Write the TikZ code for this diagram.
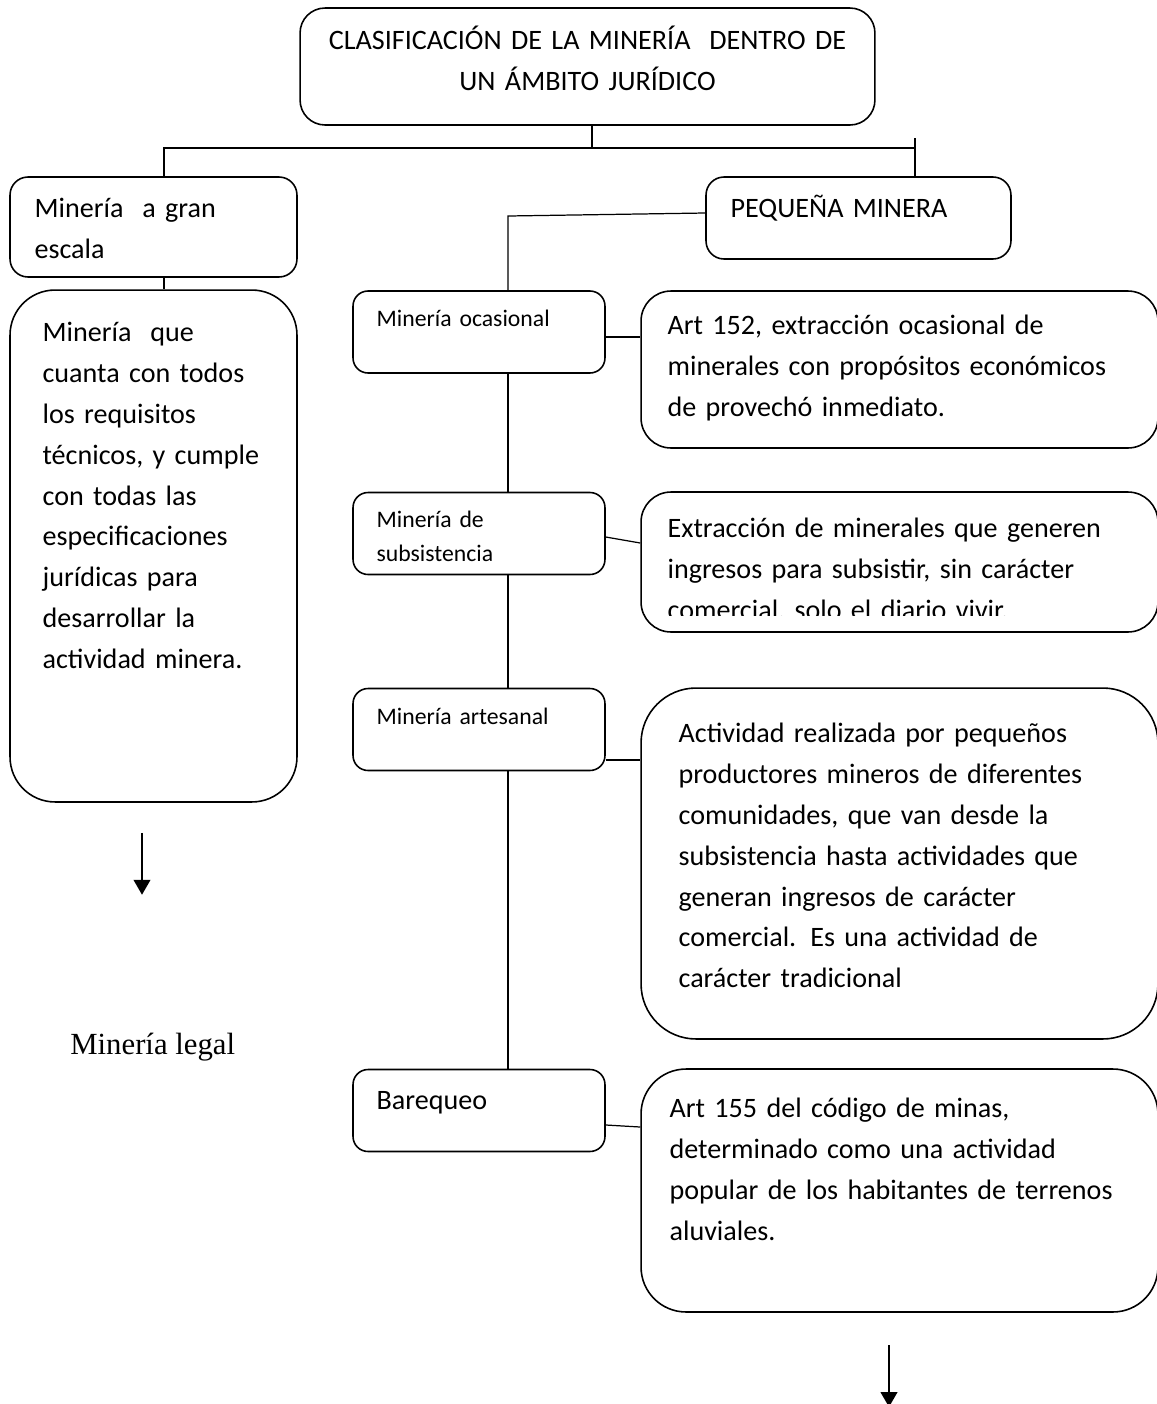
\documentclass[tikz,border=0pt]{standalone}
\usepackage{fontspec}
\setmainfont{Carlito}
\newfontfamily\legalfont{Liberation Serif}
\usepackage{tikz}
\usetikzlibrary{arrows.meta}

\begin{document}
\begin{tikzpicture}[
    x=0.02cm, y=-0.02cm,
    caja/.style={rectangle, draw, line width=0.9pt, rounded corners=#1},
    caja/.default=0.3cm,
    texto/.style={anchor=base west, inner sep=0pt, align=left, text width=#1, font=\fontsize{16}{23.3}\selectfont},
    texto/.default=9.8cm,
    chico/.style={anchor=base west, inner sep=0pt, align=left, text width=4.6cm, font=\fontsize{13.5}{19.3}\selectfont},
    linea/.style={line width=0.7pt},
    flecha/.style={-{Triangle[length=8.5pt, width=9.5pt]}, line width=1.1pt}
]
\useasboundingbox (0,0) rectangle (1157,1404);
\clip (0,0) rectangle (1157,1404);

% Title
\node[caja=0.5cm, minimum width=11.5cm, minimum height=2.34cm] (titulo) at (587.5,66.5) {};
\node[texto=11.4cm, align=center, anchor=base] (ttitulo) at ([shift={(0,42)}]titulo.north) {CLASIFICACIÓN DE LA MINERÍA~ DENTRO DE\\UN ÁMBITO JURÍDICO};

% Left branch - gran escala
\node[caja=0.36cm, minimum width=5.74cm, minimum height=2.0cm] (gran) at (153.5,227) {};
\node[texto=5cm] (tgran) at ([shift={(25,41)}]gran.north west) {Minería~ a gran\\escala};
\node[caja=0.9cm, minimum width=5.74cm, minimum height=10.24cm] (grandesc) at (153.5,546) {};
\node[texto=5.2cm] (tgrandesc) at ([shift={(33,52)}]grandesc.north west) {Minería~ que\\cuanta con todos\\los requisitos\\técnicos, y cumple\\con todas las\\especificaciones\\jurídicas para\\desarrollar la\\actividad minera.};

% Right branch - pequena mineria
\node[caja=0.36cm, minimum width=6.1cm, minimum height=1.64cm] (pequena) at (858.5,218) {};
\node[texto=5.5cm] (tpequena) at ([shift={(25,41)}]pequena.north west) {PEQUEÑA MINERA};

% Kinds of small mining
\node[caja, minimum width=5.04cm, minimum height=1.64cm] (ocas) at (479,332) {};
\node[caja, minimum width=5.04cm, minimum height=1.64cm] (subs) at (479,533.5) {};
\node[caja, minimum width=5.04cm, minimum height=1.64cm] (arte) at (479,729.5) {};
\node[caja, minimum width=5.04cm, minimum height=1.64cm] (bare) at (479,1110.5) {};
\node[chico] (tocas) at ([shift={(24,36)}]ocas.north west) {Minería ocasional};
\node[chico] (tsubs) at ([shift={(24,36)}]subs.north west) {Minería de\\subsistencia};
\node[chico] (tarte) at ([shift={(24,37)}]arte.north west) {Minería artesanal};
\node[texto=4.6cm] (tbare) at ([shift={(24,41)}]bare.north west) {Barequeo};

% Descriptions
\node[caja=0.6cm, minimum width=10.34cm, minimum height=3.14cm] (d1) at (899.5,369.5) {};
\node[caja=0.6cm, minimum width=10.34cm, minimum height=2.8cm] (d2) at (899.5,562) {};
\node[caja=1.1cm, minimum width=10.34cm, minimum height=7.02cm] (d3) at (899.5,863.5) {};
\node[caja=0.9cm, minimum width=10.34cm, minimum height=4.86cm] (d4) at (899.5,1190.5) {};
\node[texto] (td1) at ([shift={(27,44)}]d1.north west) {Art 152, extracción ocasional de\\minerales con propósitos económicos\\de provechó inmediato.};
\begin{scope}
\clip (641,492) rectangle (1158,615);
\node[texto] (td2) at ([shift={(27,46)}]d2.north west) {Extracción de minerales que generen\\ingresos para subsistir, sin carácter\\comercial, solo el diario vivir.};
\end{scope}
\node[texto] (td3) at ([shift={(38,55)}]d3.north west) {Actividad realizada por pequeños\\productores mineros de diferentes\\comunidades, que van desde la\\subsistencia hasta actividades que\\generan ingresos de carácter\\comercial. Es una actividad de\\carácter tradicional};
\node[texto] (td4) at ([shift={(29,49)}]d4.north west) {Art 155 del código de minas,\\determinado como una actividad\\popular de los habitantes de terrenos\\aluviales.};

% Legal label
\node[anchor=base west, inner sep=0pt, font=\legalfont\fontsize{17.5}{21}\selectfont] (legal) at (70,1054) {Minería legal};

% Lines from the title
\coordinate (bi) at (164,148);
\coordinate (bd) at (915,148);
\draw[linea] ([xshift=0.09cm]titulo.south) coordinate (ts) -- (ts |- bi);
\draw[linea] (gran.north -| bi) -- (bi) -- (bd);
\draw[linea] (pequena.north -| bd) -- ++(0,-38);
\draw[linea] (gran.south -| bi) -- (grandesc.north -| bi);

% Spine of pequena mineria
\coordinate (lomo) at (508,216);
\draw[linea] ([yshift=0.1cm]pequena.west) -- (lomo) -- (lomo |- ocas.north);
\draw[linea] (lomo |- ocas.south) -- (lomo |- subs.north);
\draw[linea] (lomo |- subs.south) -- (lomo |- arte.north);
\draw[linea] (lomo |- arte.south) -- (lomo |- bare.north);

% Side links
\draw[linea] ([yshift=-0.1cm]ocas.east) coordinate (o1) -- (o1 -| d1.west);
\draw[linea] ([yshift=-0.07cm]subs.east) -- ([yshift=0.38cm]d2.west);
\draw[linea] ([yshift=-0.61cm]arte.east) coordinate (a1) -- (a1 -| d3.west);
\draw[linea] ([yshift=-0.29cm]bare.east) -- ([yshift=1.27cm]d4.west);

% Arrows
\coordinate (fi1) at ([shift={(-11.5,30)}]grandesc.south);
\coordinate (fi2) at ([shift={(-11.5,92)}]grandesc.south);
\draw[flecha] (fi1) -- (fi2);
\coordinate (fd1) at (889,1345);
\coordinate (fd2) at (889,1407);
\draw[flecha] (fd1) -- (fd2);

\end{tikzpicture}
\end{document}
